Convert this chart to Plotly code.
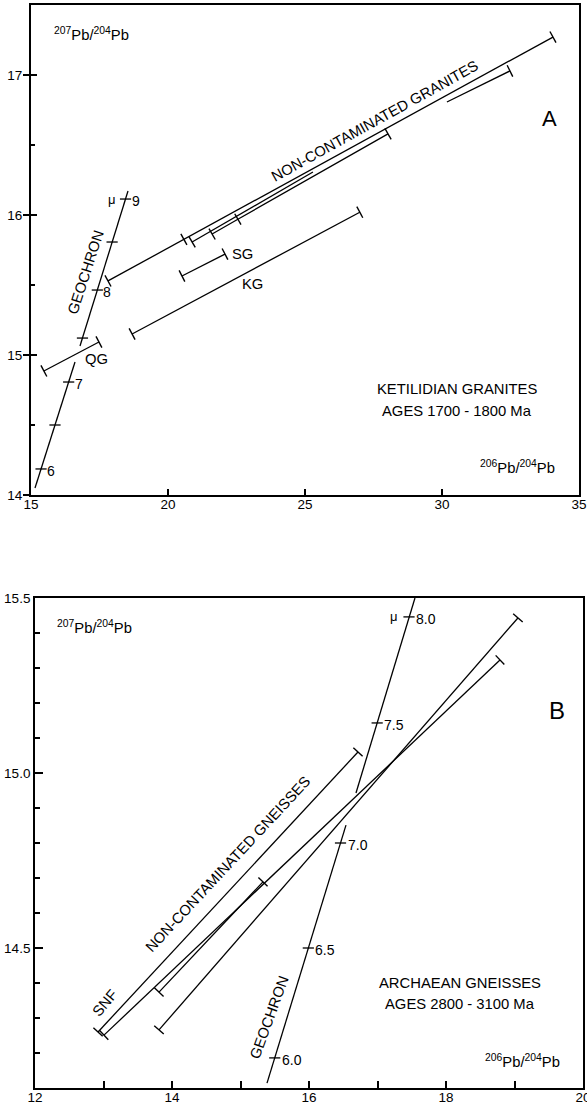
import math
import plotly.graph_objects as go

FONT = "Liberation Sans, Arial, Helvetica, sans-serif"
W, H = 587, 1106

# ---------------- Panel A data (206Pb/204Pb vs 207Pb/204Pb) ----------------
A_X_RANGE = [15, 35]
A_Y_RANGE = [14, 17.5]
A_X_TICKS = [15, 20, 25, 30, 35]
A_Y_TICKS = [14, 15, 16, 17]
A_Y_MINOR = [14.5, 15.5, 16.5]

A_GEO_LO_X = [15.146, 16.606]
A_GEO_LO_Y = [14.05, 14.95]
A_GEO_HI_X = [16.788, 18.54]
A_GEO_HI_Y = [15.064, 16.171]
A_MU_X = [15.367, 15.876, 16.375, 16.878, 17.42, 17.96, 18.45]
A_MU_Y = [14.186, 14.5, 14.807, 15.121, 15.464, 15.807, 16.114]
A_MU_TEXT = ["6", "", "7", "", "8", "", "9"]

A_NC1_X = [17.81, 20.58, 34.05]
A_NC1_Y = [15.529, 15.826, 17.271]
A_NC2_X = [20.88, 25.29]
A_NC2_Y = [15.807, 16.307]
A_NC3_X = [21.61, 22.55, 28.03]
A_NC3_Y = [15.864, 15.97, 16.579]
A_NC4_X = [30.18, 32.48]
A_NC4_Y = [16.807, 17.029]
A_SG_X = [20.51, 22.08]
A_SG_Y = [15.564, 15.721]
A_KG_X = [18.69, 27.0]
A_KG_Y = [15.15, 16.02]
A_QG_X = [15.47, 17.48]
A_QG_Y = [14.886, 15.093]

# ---------------- Panel B data ----------------
B_X_RANGE = [12, 20]
B_Y_RANGE = [14.1, 15.5]
B_X_TICKS = [12, 14, 16, 18, 20]
B_X_MINOR = [13, 15, 17, 19]
B_Y_TICKS = [14.5, 15.0, 15.5]
B_Y_TEXT = ["14.5", "15.0", "15.5"]
B_Y_MINOR = [14.2, 14.3, 14.4, 14.6, 14.7, 14.8, 14.9, 15.1, 15.2, 15.3, 15.4]

B_GEO_LO_X = [15.387, 16.54]
B_GEO_LO_Y = [14.114, 14.851]
B_GEO_HI_X = [16.686, 17.547]
B_GEO_HI_Y = [14.943, 15.5]
B_MU_X = [15.50, 15.99, 16.46, 16.995, 17.46]
B_MU_Y = [14.186, 14.5, 14.80, 15.143, 15.446]
B_MU_TEXT = ["6.0", "6.5", "7.0", "7.5", "8.0"]

B_L1_X = [12.92, 16.715]
B_L1_Y = [14.26, 15.06]
B_L2_X = [13.007, 18.788]
B_L2_Y = [14.251, 15.323]
B_L3_X = [13.81, 15.328]
B_L3_Y = [14.374, 14.689]
B_L4_X = [13.81, 19.05]
B_L4_Y = [14.266, 15.443]

# ---------------- layout geometry (pixels) ----------------
A_PX = dict(l=31, r=579, t=5, b=495)
B_PX = dict(l=35, r=583, t=598, b=1088)


def dom(px):
    return [px["l"] / W, px["r"] / W], [1 - px["b"] / H, 1 - px["t"] / H]


def scale(px, xr, yr):
    return (px["r"] - px["l"]) / (xr[1] - xr[0]), (px["b"] - px["t"]) / (yr[1] - yr[0])


SA = scale(A_PX, A_X_RANGE, A_Y_RANGE)
SB = scale(B_PX, B_X_RANGE, B_Y_RANGE)

fig = go.Figure()


def seg(xs, ys, xa, ya, sc, caps):
    fig.add_trace(go.Scatter(x=xs, y=ys, mode="lines", xaxis=xa, yaxis=ya,
                             line=dict(color="black", width=1.3),
                             hoverinfo="skip", showlegend=False))
    if caps:
        ang = math.degrees(math.atan2((ys[-1] - ys[0]) * sc[1], (xs[-1] - xs[0]) * sc[0]))
        fig.add_trace(go.Scatter(x=[xs[i] for i in caps], y=[ys[i] for i in caps],
                                 mode="markers", xaxis=xa, yaxis=ya,
                                 marker=dict(symbol="line-ns", size=9, angle=-ang,
                                             line=dict(color="black", width=1.4)),
                                 hoverinfo="skip", showlegend=False))


def mu_ticks(xs, ys, xa, ya):
    fig.add_trace(go.Scatter(x=xs, y=ys, mode="markers", xaxis=xa, yaxis=ya,
                             marker=dict(symbol="line-ew", size=8,
                                         line=dict(color="black", width=1.3)),
                             hoverinfo="skip", showlegend=False))


# Panel A
seg(A_GEO_LO_X, A_GEO_LO_Y, "x", "y", SA, [])
seg(A_GEO_HI_X, A_GEO_HI_Y, "x", "y", SA, [])
mu_ticks(A_MU_X, A_MU_Y, "x", "y")
seg(A_NC1_X, A_NC1_Y, "x", "y", SA, [0, 1, 2])
seg(A_NC2_X, A_NC2_Y, "x", "y", SA, [0])
seg(A_NC3_X, A_NC3_Y, "x", "y", SA, [0, 1, 2])
seg(A_NC4_X, A_NC4_Y, "x", "y", SA, [1])
seg(A_SG_X, A_SG_Y, "x", "y", SA, [0, 1])
seg(A_KG_X, A_KG_Y, "x", "y", SA, [0, 1])
seg(A_QG_X, A_QG_Y, "x", "y", SA, [0, 1])

# Panel B
seg(B_GEO_LO_X, B_GEO_LO_Y, "x2", "y2", SB, [])
seg(B_GEO_HI_X, B_GEO_HI_Y, "x2", "y2", SB, [])
mu_ticks(B_MU_X, B_MU_Y, "x2", "y2")
seg(B_L1_X, B_L1_Y, "x2", "y2", SB, [0, 1])
seg(B_L2_X, B_L2_Y, "x2", "y2", SB, [0, 1])
seg(B_L3_X, B_L3_Y, "x2", "y2", SB, [0, 1])
seg(B_L4_X, B_L4_Y, "x2", "y2", SB, [0, 1])

ann = []


def txt(x, y, t, xref, yref, size=14.8, angle=0, xanchor="center", xshift=0, yshift=0):
    ann.append(dict(x=x, y=y, text=t, xref=xref, yref=yref, showarrow=False,
                    textangle=angle, xanchor=xanchor, yanchor="middle",
                    xshift=xshift, yshift=yshift,
                    font=dict(family=FONT, size=size, color="black")))


for x, y, t in zip(A_MU_X, A_MU_Y, A_MU_TEXT):
    if t:
        txt(x, y, t, "x", "y", size=14, xanchor="left", xshift=4, yshift=-2)
txt(A_MU_X[-1], A_MU_Y[-1], "μ", "x", "y", size=13, xanchor="right", xshift=-8)
for x, y, t in zip(B_MU_X, B_MU_Y, B_MU_TEXT):
    txt(x, y, t, "x2", "y2", size=14, xanchor="left", xshift=5, yshift=-2)
txt(B_MU_X[-1], B_MU_Y[-1], "μ", "x2", "y2", size=13, xanchor="right", xshift=-9)

# Panel A labels
txt(15.766, 17.293, "<sup>207</sup>Pb/<sup>204</sup>Pb", "x", "y", xanchor="left")
txt(34.2, 14.2, "<sup>206</sup>Pb/<sup>204</sup>Pb", "x", "y", xanchor="right")
txt(33.94, 16.686, "A", "x", "y", size=22)
txt(27.555, 16.671, "NON-CONTAMINATED GRANITES", "x", "y", angle=-29)
txt(17.0, 15.593, "GEOCHRON", "x", "y", angle=-72)
txt(22.25, 15.72, "SG", "x", "y", xanchor="left")
txt(23.1, 15.507, "KG", "x", "y")
txt(17.39, 14.971, "QG", "x", "y")
txt(30.55, 14.757, "KETILIDIAN GRANITES", "x", "y")
txt(30.55, 14.6, "AGES 1700 - 1800 Ma", "x", "y")

# Panel B labels
txt(12.29, 15.417, "<sup>207</sup>Pb/<sup>204</sup>Pb", "x2", "y2", xanchor="left")
txt(19.69, 14.177, "<sup>206</sup>Pb/<sup>204</sup>Pb", "x2", "y2", xanchor="right")
txt(19.62, 15.18, "B", "x2", "y2", size=24)
txt(14.82, 14.74, "NON-CONTAMINATED GNEISSES", "x2", "y2", angle=-47)
txt(13.02, 14.343, "SNF", "x2", "y2", angle=-50)
txt(15.416, 14.30, "GEOCHRON", "x2", "y2", angle=-70)
txt(18.2, 14.40, "ARCHAEAN GNEISSES", "x2", "y2")
txt(18.2, 14.34, "AGES 2800 - 3100 Ma", "x2", "y2")

axis_common = dict(showline=True, mirror=True, linecolor="black", linewidth=1.8,
                   showgrid=False, zeroline=False, automargin=False,
                   tickcolor="black", tickwidth=1.8,
                   tickfont=dict(family=FONT, size=13.5, color="black"))

axd, ayd = dom(A_PX)
bxd, byd = dom(B_PX)

fig.update_layout(
    width=W, height=H, margin=dict(l=0, r=0, t=0, b=0),
    paper_bgcolor="white", plot_bgcolor="white", showlegend=False,
    template=None,
    xaxis=dict(axis_common, domain=axd, range=A_X_RANGE, anchor="y",
               tickmode="array", tickvals=A_X_TICKS, ticks="inside", ticklen=6,
               ticklabelstandoff=-4, ticklabeloverflow="allow"),
    yaxis=dict(axis_common, domain=ayd, range=A_Y_RANGE, anchor="x",
               tickmode="array", tickvals=A_Y_TICKS, ticks="outside", ticklen=6,
               ticklabelstandoff=-2,
               minor=dict(tickmode="array", tickvals=A_Y_MINOR, ticks="inside",
                          ticklen=4, tickcolor="black", tickwidth=1.5)),
    # overlay axis giving the inner half of panel A's crossing major y ticks
    yaxis3=dict(domain=ayd, range=A_Y_RANGE, anchor="x", overlaying="y", side="left",
                showline=False, showgrid=False, zeroline=False, showticklabels=False,
                tickmode="array", tickvals=A_Y_TICKS[1:], ticks="inside", ticklen=6,
                tickcolor="black", tickwidth=1.8, automargin=False),
    xaxis2=dict(axis_common, domain=bxd, range=B_X_RANGE, anchor="y2",
                tickmode="array", tickvals=B_X_TICKS, ticks="inside", ticklen=7,
                ticklabelstandoff=-4, ticklabeloverflow="allow",
                minor=dict(tickmode="array", tickvals=B_X_MINOR, ticks="inside",
                           ticklen=7, tickcolor="black", tickwidth=1.8)),
    yaxis2=dict(axis_common, domain=byd, range=B_Y_RANGE, anchor="x2",
                tickmode="array", tickvals=B_Y_TICKS, ticktext=B_Y_TEXT,
                ticks="inside", ticklen=8,
                minor=dict(tickmode="array", tickvals=B_Y_MINOR, ticks="inside",
                           ticklen=5, tickcolor="black", tickwidth=1.5)),
    annotations=ann,
)

# a hidden trace so the overlay axis is drawn
fig.add_trace(go.Scatter(x=[None], y=[None], xaxis="x", yaxis="y3",
                         hoverinfo="skip", showlegend=False))

fig.write_html("out.html", config={"displayModeBar": False},
               post_script="document.body.style.margin='0px';")
